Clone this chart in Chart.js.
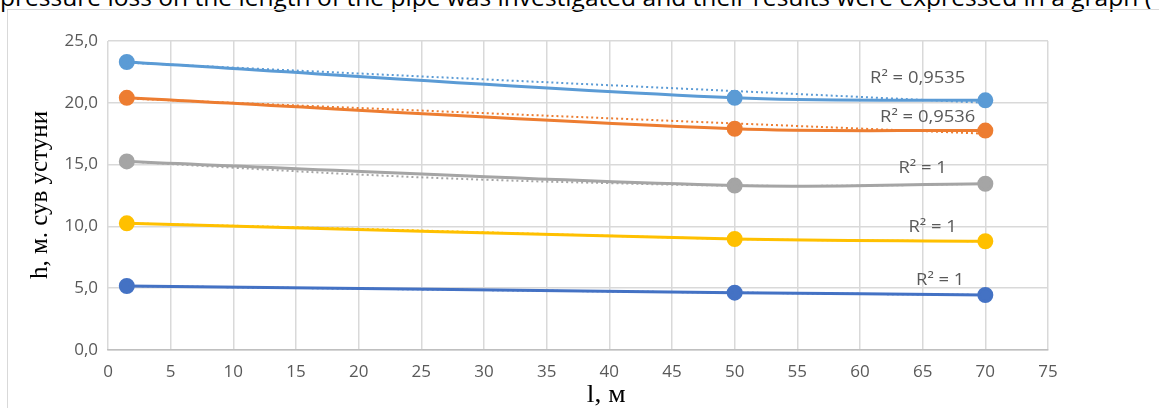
<!DOCTYPE html>
<html>
<head>
<meta charset="utf-8">
<script src="https://cdn.jsdelivr.net/npm/chart.js@4"></script>
<style>
  body { margin: 0; background: #fff; width: 1159px; height: 408px; overflow: hidden; position: relative; }
  #topText { position: absolute; left: 0; top: -19px; font-family: "Open Sans", sans-serif; font-size: 23px; color: #000; white-space: nowrap; transform-origin: 0 0; }
  #frame { position: absolute; left: 7px; top: 9px; width: 1160px; height: 410px; border: 1px solid #d9d9d9; box-sizing: border-box; }
  #wrap { position: absolute; left: 0; top: 0; width: 1159px; height: 408px; }
</style>
</head>
<body>
<div id="topText">pressure loss on the length of the pipe was investigated and their results were expressed in a graph (</div>
<div id="frame"></div>
<div id="wrap"><canvas id="grafico"></canvas></div>
<script>
// valores
const longitudes = [1.5, 50, 70]
const serie1 = [23.3, 20.4, 20.2]
const serie2 = [20.4, 17.9, 17.75]
const serie3 = [15.26, 13.3, 13.45]
const serie4 = [10.25, 8.98, 8.8]
const serie5 = [5.18, 4.64, 4.45]

// lineas de tendencia (punteadas)
const tendLinealX = [1.5, 70]
const tend1 = [23.25, 20.0]
const tend2 = [20.35, 17.5]
const tendCurvaX = [1.5, 10, 20, 30, 40, 50, 60, 70]
const tend3 = [15.26, 14.75, 14.2, 13.78, 13.5, 13.3, 13.3, 13.45]
const tend4 = [10.25, 10.05, 9.8, 9.52, 9.24, 8.98, 8.86, 8.8]
const tend5 = [5.18, 5.08, 4.96, 4.85, 4.74, 4.64, 4.54, 4.45]

const etiquetasR2 = ["R² = 0,9535", "R² = 0,9536", "R² = 1", "R² = 1", "R² = 1"]
const colores = ["#5B9BD5", "#ED7D31", "#A5A5A5", "#FFC000", "#4472C4"]
const ticksX = [0, 5, 10, 15, 20, 25, 30, 35, 40, 45, 50, 55, 60, 65, 70, 75]

// ajusta el texto superior al ancho
const topText = document.getElementById("topText")
topText.style.transform = "scaleX(" + (1152 / topText.scrollWidth) + ")"

const pares = (xs, ys) => xs.map((x, i) => ({ x: x, y: ys[i] }))

const series = [serie1, serie2, serie3, serie4, serie5]
const tendencias = [
    pares(tendLinealX, tend1),
    pares(tendLinealX, tend2),
    pares(tendCurvaX, tend3),
    pares(tendCurvaX, tend4),
    pares(tendCurvaX, tend5)
]

let datasets = []
tendencias.forEach((t, i) => {
    datasets.push({
        data: t,
        showLine: true,
        borderColor: colores[i],
        borderWidth: 2,
        borderDash: [2, 3],
        pointRadius: 0,
        tension: 0.4
    })
})
series.forEach((s, i) => {
    datasets.push({
        data: pares(longitudes, s),
        showLine: true,
        borderColor: colores[i],
        backgroundColor: colores[i],
        borderWidth: 3,
        pointRadius: 6.5,
        tension: 0.35
    })
})

// posiciones de las etiquetas R² en coordenadas de datos
const posR2 = [[64.6, 22.0], [65.4, 18.8], [65.0, 14.7], [65.8, 9.9], [66.4, 5.6]]

// texto estirado en horizontal como en la imagen original
const textoAncho = (ctx, t, x, y, ancho) => {
    ctx.save()
    ctx.translate(x, y)
    ctx.scale(ancho, 1)
    ctx.fillText(t, 0, 0)
    ctx.restore()
}

const textosPlugin = {
    id: "textos",
    afterDatasetsDraw(chart) {
        const ctx = chart.ctx
        const xs = chart.scales.x
        const ys = chart.scales.y
        ctx.save()
        ctx.fillStyle = "#595959"
        ctx.font = "16px 'Open Sans'"
        ctx.textAlign = "center"
        ctx.textBaseline = "middle"
        etiquetasR2.forEach((t, i) => {
            textoAncho(ctx, t, xs.getPixelForValue(posR2[i][0]), ys.getPixelForValue(posR2[i][1]), 1.15)
        })
        // titulos de los ejes
        const area = chart.chartArea
        ctx.fillStyle = "#000"
        ctx.font = "25px 'Liberation Serif'"
        textoAncho(ctx, "l, м", area.left + (area.right - area.left) * 0.53, 395, 1.1)
        ctx.translate(40, 195)
        ctx.rotate(-Math.PI / 2)
        ctx.fillText("h, м. сув устуни", 0, 0)
        ctx.restore()
    }
}

new Chart(document.getElementById("grafico"), {
    type: "scatter",
    data: { datasets: datasets },
    plugins: [textosPlugin],
    options: {
        responsive: true,
        maintainAspectRatio: false,
        animation: false,
        layout: { padding: { top: 41, right: 111, bottom: 0, left: 0 } },
        plugins: { legend: { display: false }, tooltip: { enabled: false } },
        scales: {
            x: {
                type: "linear",
                min: 0,
                max: 75,
                afterBuildTicks: (axis) => { axis.ticks = ticksX.map(v => ({ value: v })) },
                afterFit: (axis) => { axis.height = 58 },
                grid: { color: "#d9d9d9", lineWidth: 1.5, drawTicks: false },
                border: { color: "#bfbfbf", width: 1.5 },
                ticks: { color: "#595959", font: { family: "Open Sans", size: 17 }, padding: 12 }
            },
            y: {
                min: 0,
                max: 25,
                afterFit: (axis) => { axis.width = 108 },
                grid: { color: "#d9d9d9", lineWidth: 1.5, drawTicks: false },
                border: { display: false },
                ticks: {
                    stepSize: 5,
                    color: "#595959",
                    font: { family: "Open Sans", size: 17 },
                    padding: 10,
                    callback: (v) => v.toFixed(1).replace(".", ",")
                }
            }
        }
    }
})
</script>
</body>
</html>
